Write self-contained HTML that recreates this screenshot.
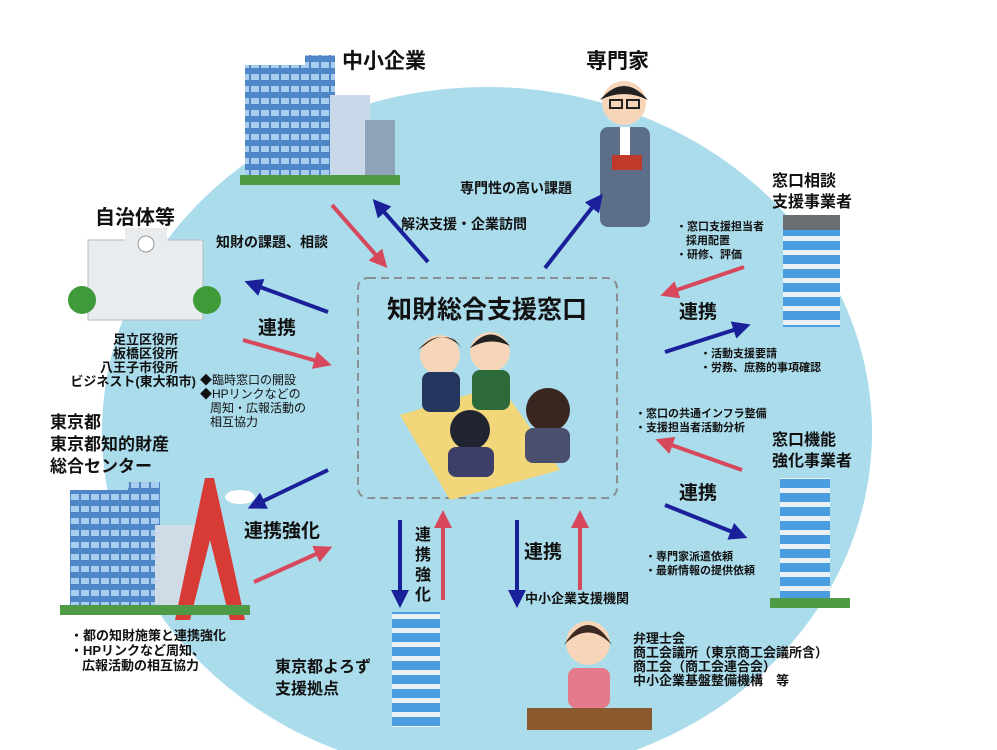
<!DOCTYPE html>
<html><head><meta charset="utf-8"><style>
body{margin:0;background:#fff}
svg{display:block}
text{font-family:"Liberation Sans","Noto Sans CJK JP",sans-serif;fill:#111}
.b{font-weight:bold}
</style></head><body>
<svg width="997" height="750" viewBox="0 0 997 750" xmlns="http://www.w3.org/2000/svg">
<defs>
<marker id="ab" markerWidth="4.5" markerHeight="4.5" refX="2.5" refY="2.25" orient="auto"><path d="M0,0 L4.5,2.25 L0,4.5z" fill="#1a1f9a"/></marker>
<marker id="ar" markerWidth="4.5" markerHeight="4.5" refX="2.5" refY="2.25" orient="auto"><path d="M0,0 L4.5,2.25 L0,4.5z" fill="#d8485c"/></marker>
<pattern id="win" width="10" height="12" patternUnits="userSpaceOnUse"><rect width="10" height="12" fill="#4f86c8"/><rect x="1" y="2" width="8" height="6" fill="#a9cdef"/></pattern>
<pattern id="win2" width="50" height="14" patternUnits="userSpaceOnUse"><rect width="50" height="14" fill="#e9f1f7"/><rect x="0" y="3" width="50" height="9" fill="#4a9ee0"/></pattern>
</defs>
<ellipse cx="487" cy="432" rx="385" ry="345" fill="#aadcec"/>
<rect x="358" y="278" width="259" height="220" rx="10" fill="#aadcec" stroke="#8a8f93" stroke-width="2" stroke-dasharray="8,5"/>
<text x="487" y="318" font-size="25" text-anchor="middle" class="b">知財総合支援窓口</text>
<polygon points="400,415 500,385 560,470 450,500" fill="#f1d77a"/>
<circle cx="440" cy="355" r="20" fill="#f6d5b8"/><path d="M418,350 Q440,325 462,348 L455,340 Q440,332 425,345z" fill="#3a2a22"/>
<rect x="422" y="372" width="38" height="40" rx="8" fill="#24365e"/>
<circle cx="490" cy="352" r="20" fill="#f6d5b8"/><path d="M470,348 Q490,322 510,346 Q490,336 470,348z" fill="#222"/>
<rect x="472" y="370" width="38" height="40" rx="8" fill="#2d6a3a"/>
<circle cx="548" cy="410" r="22" fill="#3a2620"/><rect x="525" y="428" width="45" height="35" rx="8" fill="#4a4f6e"/>
<circle cx="470" cy="430" r="20" fill="#1f2430"/><rect x="448" y="447" width="46" height="30" rx="8" fill="#3d3f6a"/>
<rect x="245" y="65" width="60" height="115" fill="url(#win)"/><rect x="305" y="55" width="30" height="125" fill="url(#win)"/>
<rect x="330" y="95" width="40" height="85" fill="#c9d9ea"/><rect x="365" y="120" width="30" height="60" fill="#8ea3b8"/>
<rect x="240" y="175" width="160" height="10" fill="#4f9a45"/>
<text x="342" y="68" font-size="21" class="b">中小企業</text>
<text x="586" y="68" font-size="21" class="b">専門家</text>
<circle cx="624" cy="103" r="22" fill="#f6d5b8"/><path d="M600,100 Q624,72 648,100 Q624,88 600,100z" fill="#222"/>
<rect x="610" y="100" width="12" height="8" fill="none" stroke="#222" stroke-width="2"/><rect x="627" y="100" width="12" height="8" fill="none" stroke="#222" stroke-width="2"/>
<rect x="600" y="127" width="50" height="100" rx="8" fill="#5d6f88"/><rect x="620" y="127" width="10" height="35" fill="#fff"/>
<rect x="612" y="155" width="30" height="15" fill="#c0392b"/>
<text x="772" y="186" font-size="16" class="b">窓口相談</text><text x="772" y="207" font-size="16" class="b">支援事業者</text>
<rect x="783" y="215" width="57" height="112" fill="url(#win2)"/><rect x="783" y="215" width="57" height="15" fill="#6a6d72"/>
<text x="772" y="445" font-size="16" class="b">窓口機能</text><text x="772" y="466" font-size="16" class="b">強化事業者</text>
<rect x="780" y="478" width="50" height="125" fill="url(#win2)"/>
<rect x="770" y="598" width="80" height="10" fill="#4f9a45"/>
<text x="95" y="224" font-size="20" class="b">自治体等</text>
<rect x="88" y="240" width="115" height="80" fill="#e8ecef" stroke="#b4bcc2"/><rect x="125" y="228" width="42" height="20" fill="#e8ecef"/>
<circle cx="146" cy="244" r="8" fill="#fff" stroke="#999"/>
<circle cx="82" cy="300" r="14" fill="#3f9a3a"/><circle cx="207" cy="300" r="14" fill="#3f9a3a"/>
<g font-size="13" text-anchor="end" class="b"><text x="178" y="344">足立区役所</text><text x="178" y="358">板橋区役所</text><text x="178" y="372">八王子市役所</text><text x="196" y="386">ビジネスト(東大和市)</text></g>
<g font-size="12"><text x="200" y="384">◆臨時窓口の開設</text><text x="200" y="398">◆HPリンクなどの</text><text x="210" y="412">周知・広報活動の</text><text x="210" y="426">相互協力</text></g>
<g font-size="17" class="b"><text x="50" y="428">東京都</text><text x="50" y="450">東京都知的財産</text><text x="50" y="472">総合センター</text></g>
<rect x="70" y="490" width="60" height="125" fill="url(#win)"/><rect x="128" y="482" width="32" height="133" fill="url(#win)"/><rect x="155" y="525" width="40" height="90" fill="#cfdbe6"/>
<path d="M205,478 L214,478 L245,620 L230,620 L210,540 L190,620 L175,620z" fill="#d83a36"/>
<ellipse cx="240" cy="497" rx="15" ry="7" fill="#fff"/>
<rect x="60" y="605" width="190" height="10" fill="#4f9a45"/>
<g font-size="13" class="b"><text x="70" y="640">・都の知財施策と連携強化</text><text x="70" y="655">・HPリンクなど周知、</text><text x="82" y="670">広報活動の相互協力</text></g>
<rect x="392" y="612" width="48" height="115" fill="url(#win2)"/>
<g font-size="16" class="b"><text x="275" y="672">東京都よろず</text><text x="275" y="694">支援拠点</text></g>
<circle cx="588" cy="643" r="22" fill="#f6d5b8"/><path d="M564,645 Q588,605 612,645 Q588,620 564,645z" fill="#3a2a22"/>
<rect x="568" y="668" width="42" height="40" rx="8" fill="#e47a8a"/><rect x="527" y="708" width="125" height="22" fill="#8a5a2e"/>
<g font-size="13" class="b"><text x="633" y="643">弁理士会</text><text x="633" y="657">商工会議所（東京商工会議所含）</text><text x="633" y="671">商工会（商工会連合会）</text><text x="633" y="685">中小企業基盤整備機構　等</text></g>
<g stroke-width="4" fill="none">
<line x1="332" y1="205" x2="382" y2="262" stroke="#d8485c" marker-end="url(#ar)"/>
<line x1="428" y1="262" x2="378" y2="205" stroke="#1a1f9a" marker-end="url(#ab)"/>
<line x1="545" y1="268" x2="598" y2="200" stroke="#1a1f9a" marker-end="url(#ab)"/>
<line x1="328" y1="312" x2="252" y2="284" stroke="#1a1f9a" marker-end="url(#ab)"/>
<line x1="243" y1="340" x2="324" y2="363" stroke="#d8485c" marker-end="url(#ar)"/>
<line x1="744" y1="267" x2="668" y2="293" stroke="#d8485c" marker-end="url(#ar)"/>
<line x1="665" y1="352" x2="743" y2="327" stroke="#1a1f9a" marker-end="url(#ab)"/>
<line x1="742" y1="470" x2="663" y2="442" stroke="#d8485c" marker-end="url(#ar)"/>
<line x1="665" y1="505" x2="740" y2="535" stroke="#1a1f9a" marker-end="url(#ab)"/>
<line x1="328" y1="470" x2="255" y2="505" stroke="#1a1f9a" marker-end="url(#ab)"/>
<line x1="254" y1="582" x2="325" y2="550" stroke="#d8485c" marker-end="url(#ar)"/>
<line x1="400" y1="520" x2="400" y2="600" stroke="#1a1f9a" marker-end="url(#ab)"/>
<line x1="443" y1="600" x2="443" y2="518" stroke="#d8485c" marker-end="url(#ar)"/>
<line x1="517" y1="520" x2="517" y2="600" stroke="#1a1f9a" marker-end="url(#ab)"/>
<line x1="580" y1="590" x2="580" y2="518" stroke="#d8485c" marker-end="url(#ar)"/>
</g>
<g class="b">
<text x="216" y="247" font-size="14">知財の課題、相談</text>
<text x="401" y="229" font-size="14">解決支援・企業訪問</text>
<text x="460" y="193" font-size="14">専門性の高い課題</text>
<text x="258" y="334" font-size="19">連携</text>
<text x="679" y="318" font-size="19">連携</text>
<text x="679" y="499" font-size="19">連携</text>
<text x="244" y="537" font-size="19">連携強化</text>
<text x="524" y="558" font-size="19">連携</text>
<g font-size="16"><text x="415" y="540">連</text><text x="415" y="560">携</text><text x="415" y="580">強</text><text x="415" y="600">化</text></g>
<text x="525" y="603" font-size="13">中小企業支援機関</text>
<g font-size="11"><text x="676" y="230">・窓口支援担当者</text><text x="686" y="244">採用配置</text><text x="676" y="258">・研修、評価</text>
<text x="700" y="357">・活動支援要請</text><text x="700" y="371">・労務、庶務的事項確認</text>
<text x="635" y="417">・窓口の共通インフラ整備</text><text x="635" y="431">・支援担当者活動分析</text>
<text x="645" y="560">・専門家派遣依頼</text><text x="645" y="574">・最新情報の提供依頼</text></g>
</g>
</svg>
</body></html>
